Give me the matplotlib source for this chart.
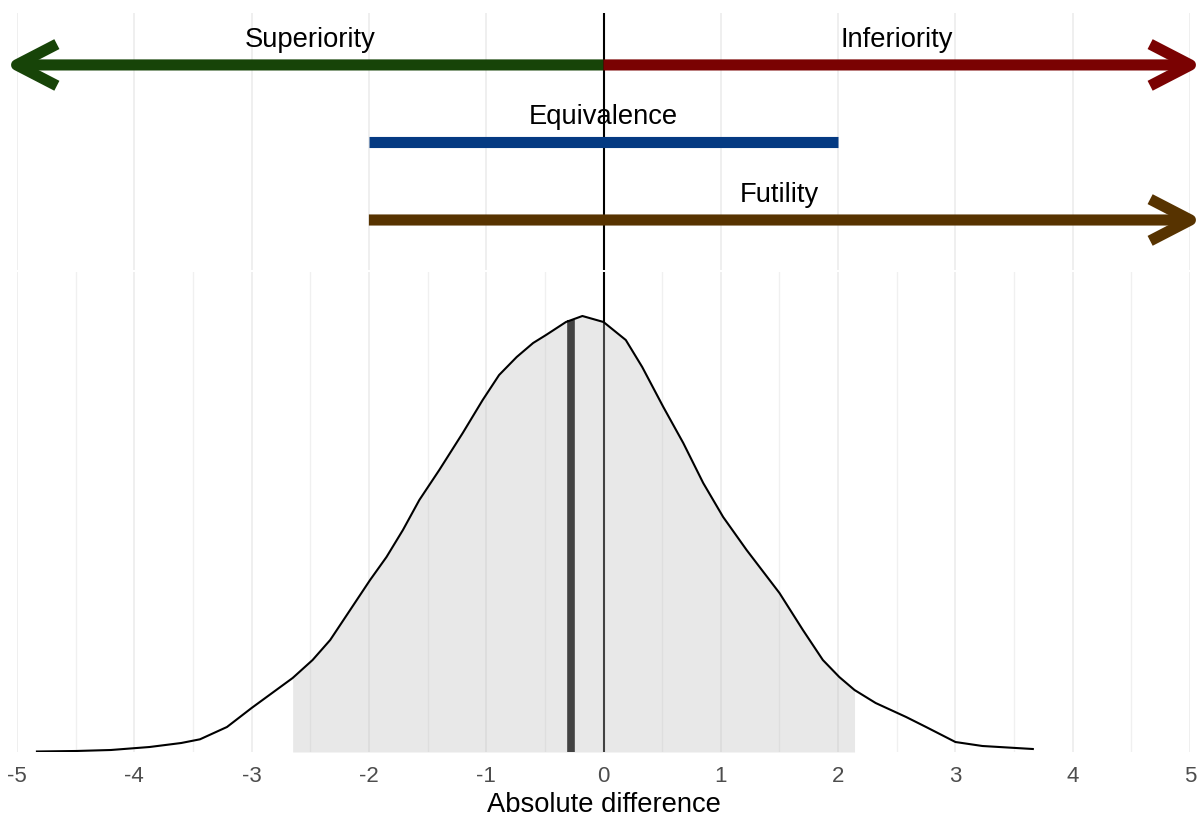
import matplotlib.pyplot as plt
import matplotlib.transforms as mtransforms
import numpy as np

plt.rcParams['font.family'] = ['Liberation Sans', 'DejaVu Sans']

# density of the posterior absolute difference
dens_x = [-4.83, -4.5, -4.2, -3.87, -3.6, -3.44, -3.21, -3.0, -2.79, -2.65, -2.48,
          -2.33, -2.16, -1.99, -1.85, -1.71, -1.57, -1.40, -1.20, -1.03, -0.89,
          -0.74, -0.60, -0.49, -0.32, -0.18, 0.0, 0.19, 0.33, 0.51, 0.68, 0.85,
          1.02, 1.22, 1.50, 1.70, 1.87, 2.01, 2.14, 2.32, 2.58, 2.75, 3.0, 3.23,
          3.66]
dens_y = [0.0005, 0.001, 0.002, 0.005, 0.009, 0.0127, 0.025, 0.044, 0.062, 0.074, 0.092,
          0.112, 0.142, 0.172, 0.195, 0.222, 0.252, 0.282, 0.319, 0.352, 0.377,
          0.395, 0.409, 0.417, 0.430, 0.436, 0.430, 0.412, 0.385, 0.345, 0.309, 0.269,
          0.235, 0.202, 0.159, 0.122, 0.092, 0.075, 0.062, 0.049, 0.035, 0.025, 0.010, 0.006,
          0.003]
interval = (-2.65, 2.14)
median = -0.28

# decision regions
regions = ['Superiority', 'Inferiority', 'Equivalence', 'Futility']
reg_start = [0, 0, -2, -2]
reg_end = [-5, 5, 2, 5]
reg_row = [3, 3, 2, 1]
reg_arrow = [True, True, False, True]
reg_color = ['#174408', '#7a0202', '#043a82', '#573300']

ticks = [-5, -4, -3, -2, -1, 0, 1, 2, 3, 4, 5]

fig = plt.figure(figsize=(12, 8.17), dpi=100)
ax_top = fig.add_axes([17 / 1200, 1 - 270 / 817, 1173 / 1200, 257 / 817])
ax = fig.add_axes([17 / 1200, 1 - 752 / 817, 1173 / 1200, 480 / 817])

for a in (ax_top, ax):
    a.set_xlim(-5, 5)
    for s in a.spines.values():
        s.set_visible(False)
    a.set_yticks([])
    a.set_xticks(ticks)
    a.tick_params(axis='x', length=0)
    a.grid(axis='x', which='major', color='#ebebeb', linewidth=1.1, zorder=0)
    a.set_axisbelow(True)

# top panel
ax_top.set_ylim(0.355, 3.67)
ax_top.set_xticklabels([])
ax_top.axvline(0, color='black', linewidth=1.5, zorder=1)
for name, x0, x1, row, arr, col in zip(regions, reg_start, reg_end, reg_row, reg_arrow, reg_color):
    if arr:
        # push the head a little past the end so the tip sits on the limit like ggplot's arrow
        tip_tr = mtransforms.offset_copy(ax_top.transData, fig=fig,
                                         x=12.5 * np.sign(x1 - x0), y=0, units='dots')
        ax_top.annotate('', xy=(x1, row), xycoords=tip_tr,
                        xytext=(x0, row), textcoords='data',
                        arrowprops=dict(arrowstyle='->,head_length=2.9,head_width=1.5',
                                        color=col, lw=8, shrinkA=0, shrinkB=0,
                                        mutation_scale=10, joinstyle='round',
                                        capstyle='butt'),
                        annotation_clip=False, zorder=2)
    else:
        ax_top.plot([x0, x1], [row, row], color=col, linewidth=8,
                    solid_capstyle='butt', zorder=2)
    ax_top.annotate(name, xy=((x0 + x1) / 2, row), xytext=(0, 18),
                    textcoords='offset points', ha='center', va='center',
                    fontsize=19.7, color='black')

# bottom panel
ax.set_ylim(0, 0.480)
ax.set_xticks(np.arange(-4.5, 5, 1), minor=True)
ax.tick_params(axis='x', which='minor', length=0)
ax.grid(axis='x', which='minor', color='#f0f0f0', linewidth=1.0, zorder=0)
ax.set_xticklabels([str(t) for t in ticks], fontsize=16, color='#4d4d4d')
ax.tick_params(axis='x', pad=10)
ax.set_xlabel('Absolute difference', fontsize=19.7, color='black', labelpad=4)

dx = np.array(dens_x)
dy = np.array(dens_y)
ax.axvline(0, color='black', linewidth=1.5, zorder=1)
ax.vlines(median, 0, np.interp(median, dx, dy), color='black', linewidth=5.5, zorder=1)
inside = (dx >= interval[0]) & (dx <= interval[1])
ax.fill_between(dx[inside], 0, dy[inside], color='#bebebe', alpha=0.35,
                linewidth=0, zorder=2)
ax.plot(dx, dy, color='black', linewidth=1.5, zorder=3, solid_joinstyle='round')

plt.savefig('out.png', dpi=100)
